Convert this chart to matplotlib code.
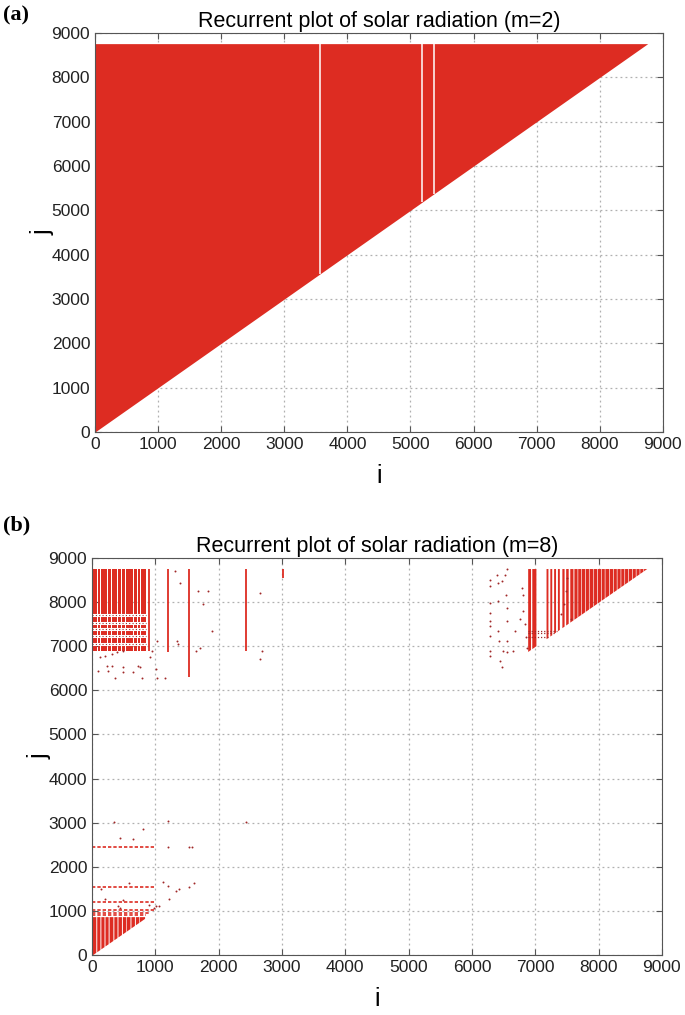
import matplotlib.pyplot as plt

plt.rcParams['font.family'] = ['Liberation Sans', 'DejaVu Sans']

# Data (hours of one year, i and j indices)
n_hours = 8760
ticks = [0, 1000, 2000, 3000, 4000, 5000, 6000, 7000, 8000, 9000]

# (a) m=2: almost everything recurrent, a few non-recurrent columns
gaps_a = [3560, 5180, 5370]

# (b) m=8: striped blocks (i_start, i_end)
ll_stripes = [(5, 60), (75, 125), (140, 190), (205, 255), (270, 330), (345, 395),
              (410, 465), (480, 535), (545, 600), (615, 670), (685, 740), (750, 830)]
ll_top = 870
ll_rows = [900, 950, 1020, 1210, 1540, 2440]
ll_rows_end = [850, 900, 1000, 1000, 1010, 990]

ul_stripes = [(10, 75), (90, 130), (145, 235), (250, 300), (315, 395), (410, 455),
              (470, 525), (540, 595), (605, 655), (665, 710), (720, 765), (775, 845)]
ul_bottom = 6900
ul_gaps = [7710, 7530, 7390, 7230, 7060]
ul_cols = [900, 1200, 1535, 2430, 3010]
ul_cols_bottom = [6900, 6860, 6300, 6890, 8550]

ur_stripes = [(6880, 6925), (6945, 7010), (7170, 7200), (7230, 7260), (7290, 7320),
              (7350, 7380), (7420, 7455), (7480, 7520), (7545, 7595), (7610, 7660),
              (7670, 7720), (7730, 7780), (7790, 7840), (7850, 7910), (7920, 7970),
              (7980, 8030), (8040, 8090), (8100, 8160), (8170, 8220), (8230, 8280),
              (8290, 8340), (8350, 8400), (8410, 8460), (8470, 8520), (8530, 8580),
              (8590, 8640), (8650, 8700), (8710, 8760)]
ur_rows = [7200, 7290, 7350]
ur_rows_start = [6880, 6880, 6880]
ur_rows_end = [7200, 7290, 7350]

pts_i = [6280, 6280, 6290, 6290, 6290, 6290, 6290, 6290, 6290, 6400, 6415, 6405,
         6405, 6425, 6440, 6470, 6485, 6480, 6520, 6530, 6550, 6550, 6560, 6550,
         6550, 6650, 6680, 6760, 6790, 6810, 6810, 6840, 6860, 6870, 7505, 7480,
         7450, 7400, 7560,
         125, 205, 310, 390, 495, 230, 310, 495, 730, 760, 100, 260, 365, 495, 650,
         785, 915, 940, 1010, 1020, 1150, 1020, 1310, 1390, 1365, 1340, 1680, 1755,
         1825, 1890, 1705, 1650, 2650, 2650, 2680,
         345, 1195, 2425, 800, 435, 645, 1195, 1535, 1585, 1115, 1195, 1325, 1375,
         1535, 1610, 1220, 1010, 905, 1065, 985, 590, 145, 200, 485, 435, 410]
pts_j = [8510, 8360, 7985, 7760, 7570, 7460, 7230, 6890, 6780, 8620, 8440, 8020,
         7350, 7120, 6670, 6520, 6890, 8470, 8620, 8170, 8740, 7870, 7570, 7120,
         6860, 6890, 7350, 7610, 8320, 8170, 7800, 7500, 7200, 6970, 8550, 8250,
         7950, 7720, 7610,
         6745, 6780, 6820, 6860, 6890, 6555, 6555, 6530, 6555, 6530, 6430, 6430,
         6290, 6405, 6405, 6290, 6745, 6890, 6480, 6290, 6290, 7120, 8700, 8440,
         7045, 7120, 8250, 7950, 8250, 7350, 6970, 6890, 8210, 6710, 6890,
         3015, 3030, 3015, 2855, 2650, 2630, 2440, 2440, 2440, 1645, 1570, 1440,
         1490, 1540, 1630, 1265, 1115, 1135, 1100, 1060, 1630, 1490, 1265, 1250,
         1060, 1100]

red = '#dd2c22'
dark = '#a02828'

fig = plt.figure(figsize=(6.85, 10.15), dpi=100)
ax_a = fig.add_axes([0.1387, 0.5744, 0.829, 0.3931])
ax_b = fig.add_axes([0.1343, 0.0591, 0.832, 0.3912])


def style(ax):
    ax.set_xlim(0, 9000)
    ax.set_ylim(0, 9000)
    ax.set_xticks(ticks)
    ax.set_yticks(ticks)
    ax.grid(True, color='#b0b0b0', linestyle=(0, (1.5, 2.5)), linewidth=0.9)
    ax.set_axisbelow(True)
    ax.tick_params(direction='in', top=True, right=True, labelsize=12.5,
                   length=4, color='#555555', labelcolor='#222222')
    for s in ax.spines.values():
        s.set_color('#555555')
    ax.set_xlabel('i', fontsize=18, labelpad=9)
    ax.set_ylabel('j', fontsize=18, labelpad=-2)


# (a)
style(ax_a)
ax_a.fill_between([0, n_hours], [0, n_hours], [n_hours, n_hours], color=red, lw=0)
ax_a.vlines(gaps_a, gaps_a, n_hours, colors='white', lw=1.1)
ax_a.set_title('Recurrent plot of solar radiation (m=2)', fontsize=15.5, pad=4)

# (b)
style(ax_b)
for a, b in ll_stripes:
    ax_b.fill_between([a, b], [a, b], [ll_top, ll_top], color=red, lw=0)
for y, e in zip(ll_rows, ll_rows_end):
    ax_b.hlines(y, 0, e, colors=red, lw=1.2, linestyles=(0, (2, 1.2)))
for a, b in ul_stripes:
    ax_b.fill_between([a, b], [ul_bottom, ul_bottom], [n_hours, n_hours], color=red, lw=0)
ax_b.hlines(ul_gaps, 0, 850, colors='white', lw=2.2)
ax_b.hlines(ul_gaps, 0, 850, colors=dark, lw=0.8, linestyles=(0, (1, 2)))
ax_b.vlines(ul_cols, ul_cols_bottom, n_hours, colors=red, lw=1.3)
for a, b in ur_stripes:
    ax_b.fill_between([a, b], [a, b], [n_hours, n_hours], color=red, lw=0)
ax_b.hlines(ur_rows, ur_rows_start, ur_rows_end, colors=dark, lw=0.9,
            linestyles=(0, (1, 1.5)))
ax_b.scatter(pts_i, pts_j, s=2, color=dark, lw=0)
ax_b.set_title('Recurrent plot of solar radiation (m=8)', fontsize=15.5, pad=4)

fig.text(0.005, 0.985, '(a)', fontsize=16, fontweight='bold', family='Liberation Serif',
         va='center')
fig.text(0.005, 0.482, '(b)', fontsize=16, fontweight='bold', family='Liberation Serif',
         va='center')

plt.savefig('out.png')
